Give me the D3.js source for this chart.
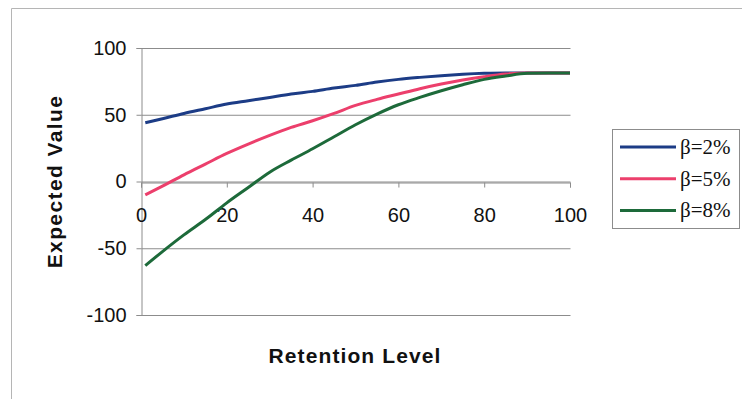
<!DOCTYPE html>
<html>
<head>
<meta charset="utf-8">
<script src="https://cdn.jsdelivr.net/npm/d3@7"></script>
<style>
  html, body { margin: 0; padding: 0; background: #fff; }
  svg { display: block; }
  .tick-lab { font-family: "Liberation Sans", Arial, sans-serif; font-size: 20px; fill: #111; }
  .ttl { font-family: "Liberation Sans", Arial, sans-serif; font-size: 21px; font-weight: bold; fill: #111; }
  .leg { font-family: "Liberation Serif", "Times New Roman", serif; font-size: 21px; fill: #111; }
</style>
</head>
<body>
<svg id="chart"></svg>
<script>
// Expected value vs retention level, three beta loadings
var retention = [1, 5, 10, 15, 20, 25, 30, 35, 40, 45, 50, 55, 60, 65, 70, 75, 80, 85, 90, 95, 100];
var beta2 = [44, 47, 51, 54.5, 58, 60.5, 63, 65.5, 67.5, 70, 72, 74.5, 76.5, 78, 79.3, 80.3, 81, 81.3, 81.3, 81.3, 81.3];
var beta5 = [-10, -3.5, 5, 13, 21, 28, 34.5, 40.5, 45.5, 51, 57, 61.5, 65.5, 69.5, 73, 76, 78.5, 80.5, 81.3, 81.3, 81.3];
var beta8 = [-63, -52.5, -40, -28.5, -16, -4.5, 7, 16, 24.5, 33.5, 42.5, 50.5, 57.5, 63, 68, 72.5, 76.5, 79, 81, 81.3, 81.3];
var seriesNames = ["\u03b2=2%", "\u03b2=5%", "\u03b2=8%"];
var seriesColors = ["#1c3c86", "#ec3f6c", "#1d6a3a"];
var xTicks = [0, 20, 40, 60, 80, 100];
var yTicks = [-100, -50, 0, 50, 100];

(function () {
  "use strict";
  var W = 742, H = 399;
  var L = 141, R = 570, T = 48, B = 315;
  var svg = d3.select("#chart").attr("width", W).attr("height", H);
  var plain = function (d) { return String(d); }; // Excel-style hyphen minus

  // chart area frame (runs off the right and bottom of the crop)
  svg.append("path").attr("d", "M11.5," + (H + 2) + "V8.5H" + (W + 2))
    .attr("fill", "none").attr("stroke", "#b5b5b5").attr("stroke-width", 1);

  var x = d3.scaleLinear().domain([0, 100]).range([L, R]);
  var y = d3.scaleLinear().domain([-100, 100]).range([B, T]);

  // horizontal gridlines + y axis
  var gy = svg.append("g").attr("transform", "translate(" + (L + 0.5) + ",0)")
    .call(d3.axisLeft(y).tickValues(yTicks).tickSize(5).tickPadding(10).tickFormat(plain));
  gy.select(".domain").attr("stroke", "#8c8c8c");
  gy.selectAll(".tick line").attr("stroke", "#8c8c8c");
  gy.selectAll(".tick text").attr("class", "tick-lab").attr("font-size", null).attr("font-family", null).attr("fill", null);
  gy.selectAll(".tick").append("line").attr("x1", 0).attr("x2", R - L).attr("stroke", "#8c8c8c");

  // x axis sits on the zero line
  var gx = svg.append("g").attr("transform", "translate(0," + (Math.round(y(0)) + 0.5) + ")")
    .call(d3.axisBottom(x).tickValues(xTicks).tickSize(5).tickPadding(20).tickFormat(plain));
  gx.select(".domain").attr("stroke", "#8c8c8c");
  gx.selectAll(".tick line").attr("stroke", "#8c8c8c");
  gx.selectAll(".tick text").attr("class", "tick-lab").attr("font-size", null).attr("font-family", null).attr("fill", null);

  // series
  var line = d3.line().x(function (d) { return x(d[0]); }).y(function (d) { return y(d[1]); }).curve(d3.curveMonotoneX);
  [beta2, beta5, beta8].forEach(function (vals, i) {
    svg.append("path").datum(retention.map(function (r, k) { return [r, vals[k]]; }))
      .attr("d", line).attr("fill", "none").attr("stroke", seriesColors[i])
      .attr("stroke-width", 3).attr("stroke-linejoin", "round");
  });

  // titles
  svg.append("text").attr("class", "ttl").attr("x", 355).attr("y", 363)
    .attr("text-anchor", "middle").attr("letter-spacing", "1.1px").text("Retention Level");
  svg.append("text").attr("class", "ttl").attr("transform", "translate(62," + ((T + B) / 2) + ") rotate(-90)")
    .attr("text-anchor", "middle").attr("letter-spacing", "1.4px").text("Expected Value");

  // legend
  var lg = svg.append("g").attr("transform", "translate(612,129)");
  lg.append("rect").attr("x", 0.5).attr("y", 0.5).attr("width", 127).attr("height", 99)
    .attr("fill", "#fff").attr("stroke", "#8c8c8c");
  seriesNames.forEach(function (n, i) {
    var yy = 18 + i * 31.7;
    lg.append("line").attr("x1", 8).attr("x2", 64).attr("y1", yy).attr("y2", yy)
      .attr("stroke", seriesColors[i]).attr("stroke-width", 3);
    lg.append("text").attr("class", "leg").attr("x", 68).attr("y", yy + 7).text(n);
  });
})();
</script>
</body>
</html>
